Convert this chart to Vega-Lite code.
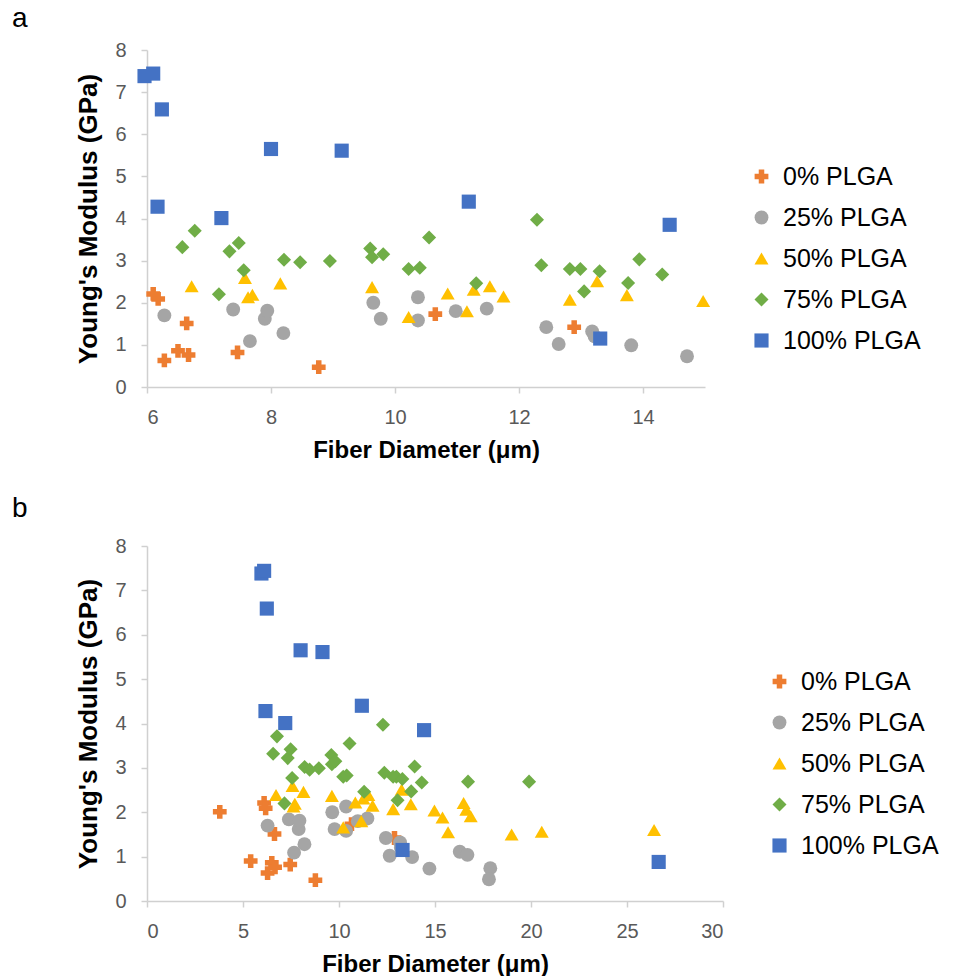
{
  "$schema": "https://vega.github.io/schema/vega-lite/v6.json",
  "padding": {"left": 12, "top": 5, "right": 0, "bottom": 0},
  "background": "white",
  "spacing": 33,
  "config": {
    "font": "Liberation Sans",
    "view": {"stroke": null},
    "axis": {
      "grid": false,
      "domainColor": "#D0D0D0",
      "domainWidth": 1.5,
      "tickColor": "#D0D0D0",
      "tickWidth": 1.5,
      "tickSize": 6,
      "labelColor": "#595959",
      "labelFontSize": 20,
      "titleColor": "black",
      "titleFontWeight": "bold"
    },
    "axisX": {"labelPadding": 14, "titlePadding": 11, "titleFontSize": 24},
    "axisY": {"labelPadding": 15, "titlePadding": 13, "titleFontSize": 26},
    "legend": {
      "orient": "none",
      "title": null,
      "labelFontSize": 25,
      "labelColor": "black",
      "symbolSize": 110,
      "rowPadding": 15,
      "labelOffset": 9,
      "padding": 0,
      "symbolStrokeWidth": 0
    },
    "title": {"fontSize": 28, "fontWeight": "normal", "color": "black", "anchor": "start", "frame": "group"}
  },
  "datasets": {
    "pts": [
      {"x": 3.79, "y": 2.01, "group": "0% PLGA"},
      {"x": 5.40, "y": 0.90, "group": "0% PLGA"},
      {"x": 6.10, "y": 2.21, "group": "0% PLGA"},
      {"x": 6.18, "y": 2.09, "group": "0% PLGA"},
      {"x": 6.28, "y": 0.63, "group": "0% PLGA"},
      {"x": 6.50, "y": 0.86, "group": "0% PLGA"},
      {"x": 6.64, "y": 1.51, "group": "0% PLGA"},
      {"x": 6.67, "y": 0.76, "group": "0% PLGA"},
      {"x": 7.46, "y": 0.82, "group": "0% PLGA"},
      {"x": 8.77, "y": 0.47, "group": "0% PLGA"},
      {"x": 10.65, "y": 1.73, "group": "0% PLGA"},
      {"x": 12.89, "y": 1.42, "group": "0% PLGA"},
      {"x": 6.28, "y": 1.70, "group": "25% PLGA"},
      {"x": 7.39, "y": 1.84, "group": "25% PLGA"},
      {"x": 7.66, "y": 1.09, "group": "25% PLGA"},
      {"x": 7.90, "y": 1.62, "group": "25% PLGA"},
      {"x": 7.94, "y": 1.81, "group": "25% PLGA"},
      {"x": 8.20, "y": 1.28, "group": "25% PLGA"},
      {"x": 9.65, "y": 2.00, "group": "25% PLGA"},
      {"x": 9.77, "y": 1.62, "group": "25% PLGA"},
      {"x": 10.37, "y": 2.13, "group": "25% PLGA"},
      {"x": 10.37, "y": 1.58, "group": "25% PLGA"},
      {"x": 10.98, "y": 1.80, "group": "25% PLGA"},
      {"x": 11.48, "y": 1.86, "group": "25% PLGA"},
      {"x": 12.44, "y": 1.42, "group": "25% PLGA"},
      {"x": 12.64, "y": 1.02, "group": "25% PLGA"},
      {"x": 13.18, "y": 1.32, "group": "25% PLGA"},
      {"x": 13.22, "y": 1.20, "group": "25% PLGA"},
      {"x": 13.81, "y": 0.99, "group": "25% PLGA"},
      {"x": 14.71, "y": 0.73, "group": "25% PLGA"},
      {"x": 16.29, "y": 1.11, "group": "25% PLGA"},
      {"x": 16.69, "y": 1.04, "group": "25% PLGA"},
      {"x": 17.88, "y": 0.74, "group": "25% PLGA"},
      {"x": 17.81, "y": 0.49, "group": "25% PLGA"},
      {"x": 6.72, "y": 2.39, "group": "50% PLGA"},
      {"x": 7.58, "y": 2.59, "group": "50% PLGA"},
      {"x": 7.63, "y": 2.13, "group": "50% PLGA"},
      {"x": 7.70, "y": 2.19, "group": "50% PLGA"},
      {"x": 8.15, "y": 2.46, "group": "50% PLGA"},
      {"x": 9.63, "y": 2.37, "group": "50% PLGA"},
      {"x": 10.22, "y": 1.66, "group": "50% PLGA"},
      {"x": 10.85, "y": 2.22, "group": "50% PLGA"},
      {"x": 11.16, "y": 1.80, "group": "50% PLGA"},
      {"x": 11.27, "y": 2.31, "group": "50% PLGA"},
      {"x": 11.53, "y": 2.39, "group": "50% PLGA"},
      {"x": 11.75, "y": 2.15, "group": "50% PLGA"},
      {"x": 12.82, "y": 2.07, "group": "50% PLGA"},
      {"x": 13.26, "y": 2.51, "group": "50% PLGA"},
      {"x": 13.74, "y": 2.18, "group": "50% PLGA"},
      {"x": 14.97, "y": 2.04, "group": "50% PLGA"},
      {"x": 15.39, "y": 1.88, "group": "50% PLGA"},
      {"x": 15.68, "y": 1.55, "group": "50% PLGA"},
      {"x": 16.49, "y": 2.21, "group": "50% PLGA"},
      {"x": 16.63, "y": 2.06, "group": "50% PLGA"},
      {"x": 16.86, "y": 1.91, "group": "50% PLGA"},
      {"x": 18.99, "y": 1.50, "group": "50% PLGA"},
      {"x": 20.56, "y": 1.56, "group": "50% PLGA"},
      {"x": 26.41, "y": 1.60, "group": "50% PLGA"},
      {"x": 6.57, "y": 3.32, "group": "75% PLGA"},
      {"x": 6.77, "y": 3.71, "group": "75% PLGA"},
      {"x": 7.16, "y": 2.20, "group": "75% PLGA"},
      {"x": 7.33, "y": 3.22, "group": "75% PLGA"},
      {"x": 7.48, "y": 3.42, "group": "75% PLGA"},
      {"x": 7.56, "y": 2.77, "group": "75% PLGA"},
      {"x": 8.21, "y": 3.02, "group": "75% PLGA"},
      {"x": 8.47, "y": 2.96, "group": "75% PLGA"},
      {"x": 8.95, "y": 2.99, "group": "75% PLGA"},
      {"x": 9.60, "y": 3.29, "group": "75% PLGA"},
      {"x": 9.63, "y": 3.08, "group": "75% PLGA"},
      {"x": 9.81, "y": 3.15, "group": "75% PLGA"},
      {"x": 10.22, "y": 2.80, "group": "75% PLGA"},
      {"x": 10.40, "y": 2.83, "group": "75% PLGA"},
      {"x": 10.55, "y": 3.55, "group": "75% PLGA"},
      {"x": 11.31, "y": 2.46, "group": "75% PLGA"},
      {"x": 12.29, "y": 3.97, "group": "75% PLGA"},
      {"x": 12.36, "y": 2.89, "group": "75% PLGA"},
      {"x": 12.82, "y": 2.80, "group": "75% PLGA"},
      {"x": 12.99, "y": 2.80, "group": "75% PLGA"},
      {"x": 13.05, "y": 2.27, "group": "75% PLGA"},
      {"x": 13.30, "y": 2.75, "group": "75% PLGA"},
      {"x": 13.76, "y": 2.47, "group": "75% PLGA"},
      {"x": 13.94, "y": 3.03, "group": "75% PLGA"},
      {"x": 14.31, "y": 2.67, "group": "75% PLGA"},
      {"x": 16.72, "y": 2.69, "group": "75% PLGA"},
      {"x": 19.90, "y": 2.69, "group": "75% PLGA"},
      {"x": 5.96, "y": 7.38, "group": "100% PLGA"},
      {"x": 6.10, "y": 7.44, "group": "100% PLGA"},
      {"x": 6.24, "y": 6.59, "group": "100% PLGA"},
      {"x": 6.17, "y": 4.28, "group": "100% PLGA"},
      {"x": 7.20, "y": 4.01, "group": "100% PLGA"},
      {"x": 8.00, "y": 5.65, "group": "100% PLGA"},
      {"x": 9.14, "y": 5.61, "group": "100% PLGA"},
      {"x": 11.19, "y": 4.40, "group": "100% PLGA"},
      {"x": 14.43, "y": 3.85, "group": "100% PLGA"},
      {"x": 13.31, "y": 1.15, "group": "100% PLGA"},
      {"x": 26.65, "y": 0.88, "group": "100% PLGA"}
    ]
  },
  "resolve": {
    "scale": {"color": "independent", "shape": "independent", "size": "independent", "x": "independent", "y": "independent"},
    "legend": {"color": "independent", "shape": "independent"}
  },
  "vconcat": [
    {
      "title": {"text": "a", "dx": -135, "offset": 7},
      "width": 558,
      "height": 337,
      "data": {"name": "pts"},
      "transform": [{"filter": "datum.x >= 5.9 && datum.x <= 15.1"}],
      "mark": {"type": "point", "filled": true, "opacity": 1},
      "encoding": {
        "x": {"field": "x", "type": "quantitative", "scale": {"domain": [6, 15], "nice": false, "zero": false}, "axis": {"values": [6, 8, 10, 12, 14], "title": "Fiber Diameter (μm)"}},
        "y": {"field": "y", "type": "quantitative", "scale": {"domain": [0, 8], "nice": false}, "axis": {"values": [0, 1, 2, 3, 4, 5, 6, 7, 8], "title": "Young's Modulus (GPa)"}},
        "color": {"field": "group", "type": "nominal", "scale": {"domain": ["0% PLGA", "25% PLGA", "50% PLGA", "75% PLGA", "100% PLGA"], "range": ["#ED7D31", "#A5A5A5", "#FFC000", "#70AD47", "#4472C4"]}, "legend": {"legendX": 602, "legendY": 114}},
        "shape": {"field": "group", "type": "nominal", "scale": {"domain": ["0% PLGA", "25% PLGA", "50% PLGA", "75% PLGA", "100% PLGA"], "range": ["cross", "circle", "triangle-up", "diamond", "square"]}, "legend": {"legendX": 602, "legendY": 114}},
        "size": {"field": "group", "type": "nominal", "scale": {"domain": ["0% PLGA", "25% PLGA", "50% PLGA", "75% PLGA", "100% PLGA"], "range": [190, 200, 260, 230, 200]}, "legend": null}
      }
    },
    {
      "title": {"text": "b", "dx": -135, "offset": 13},
      "width": 576,
      "height": 355,
      "data": {"name": "pts"},
      "mark": {"type": "point", "filled": true, "opacity": 1},
      "encoding": {
        "x": {"field": "x", "type": "quantitative", "scale": {"domain": [0, 30], "nice": false}, "axis": {"values": [0, 5, 10, 15, 20, 25, 30], "title": "Fiber Diameter (μm)"}},
        "y": {"field": "y", "type": "quantitative", "scale": {"domain": [0, 8], "nice": false}, "axis": {"values": [0, 1, 2, 3, 4, 5, 6, 7, 8], "title": "Young's Modulus (GPa)"}},
        "color": {"field": "group", "type": "nominal", "scale": {"domain": ["0% PLGA", "25% PLGA", "50% PLGA", "75% PLGA", "100% PLGA"], "range": ["#ED7D31", "#A5A5A5", "#FFC000", "#70AD47", "#4472C4"]}, "legend": {"legendX": 620, "legendY": 123}},
        "shape": {"field": "group", "type": "nominal", "scale": {"domain": ["0% PLGA", "25% PLGA", "50% PLGA", "75% PLGA", "100% PLGA"], "range": ["cross", "circle", "triangle-up", "diamond", "square"]}, "legend": {"legendX": 620, "legendY": 123}},
        "size": {"field": "group", "type": "nominal", "scale": {"domain": ["0% PLGA", "25% PLGA", "50% PLGA", "75% PLGA", "100% PLGA"], "range": [190, 200, 260, 230, 200]}, "legend": null}
      }
    }
  ]
}
